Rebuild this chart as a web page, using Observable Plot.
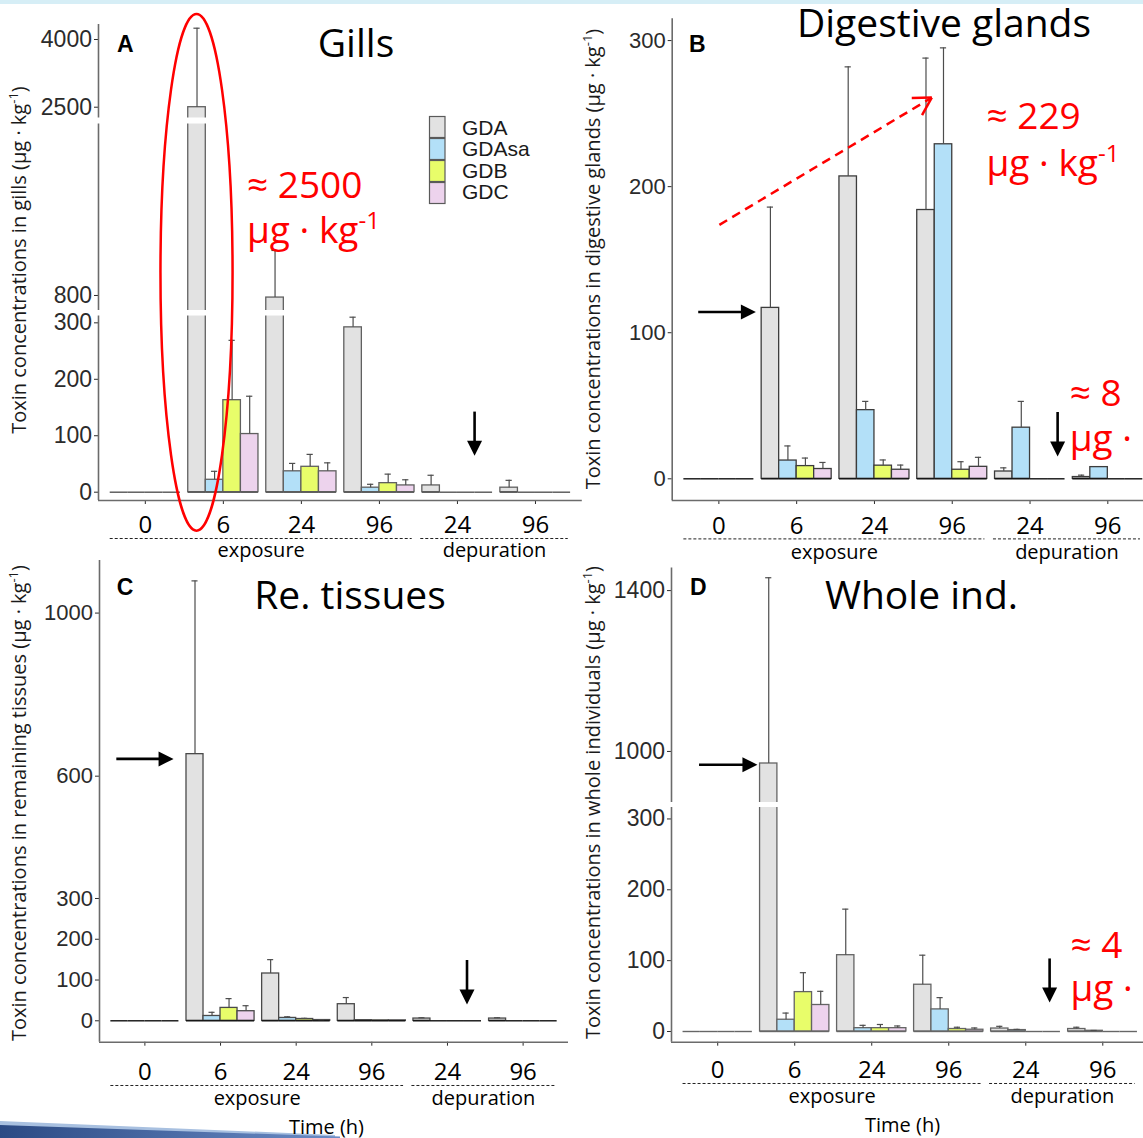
<!DOCTYPE html>
<html><head><meta charset="utf-8">
<script src="https://cdn.jsdelivr.net/npm/d3@7"></script>
<script src="https://cdn.jsdelivr.net/npm/@observablehq/plot@0.6"></script>
<style>
html,body{margin:0;padding:0;background:#fff;}
#wrap{position:relative;width:1143px;height:1138px;overflow:hidden;background:#fff;}
</style></head><body><div id="wrap"></div>
<script>
// ---------------- data ----------------
const timeLabels = ["0", "6", "24", "96", "24", "96"];
const phaseLabels = ["exposure", "depuration"];
const toxins = ["GDA", "GDAsa", "GDB", "GDC"];
const toxinColors = ["#e2e2e2", "#b3e0f8", "#e8fd6a", "#edd3ed"];

// rows = time groups (0,6,24,96 exposure; 24,96 depuration), columns = toxins
const gillsMean = [[0,0,0,0],[2500,22,163,103],[783,37,45,37],[292,8,16,12],[12,0,0,0],[8,0,0,0]];
const gillsSD   = [[0,0,0,0],[1750,15,106,67],[383,14,22,15],[18,6,16,10],[18,0,0,0],[13,0,0,0]];
const glandsMean = [[0,0,0,0],[117,12.5,8.7,6.7],[207,47,9,6.2],[184,229,6.2,8.2],[5,35,0,0],[1.2,8,0,0]];
const glandsSD   = [[0,0,0,0],[69,10,5.5,4.5],[75,6,3.9,3.2],[104,66,5.5,6.5],[2.5,18,0,0],[1.3,0,0,0]];
const tissuesMean = [[0,0,0,0],[654,11.8,31.6,23.5],[116,7,4.4,1.8],[40.7,1.5,1,1],[5.5,0,0,0],[5.5,0,0,0]];
const tissuesSD   = [[0,0,0,0],[425,9,22.8,13.5],[34,2.8,1.6,1.2],[16.3,0,0,0],[2,0,0,0],[2,0,0,0]];
const wholeMean = [[0,0,0,0],[970,16.6,55.6,37.4],[107.7,4.7,4.7,4.7],[66,31.2,3.5,2.5],[4.2,2,0,0],[3.5,1,0,0]];
const wholeSD   = [[0,0,0,0],[462,9.4,27.4,19.3],[65,4,5.2,3.1],[41.7,16.6,2.5,2.5],[3.1,1,0,0],[2.5,0.5,0,0]];

const gillsTicks = [0, 100, 200, 300, 800, 2500, 4000];
const glandsTicks = [0, 100, 200, 300];
const tissuesTicks = [0, 100, 200, 300, 600, 1000];
const wholeTicks = [0, 100, 200, 300, 1000, 1400];

// ---------------- layout ----------------
const W = 1160, H = 1138;
const wrap = document.getElementById("wrap");

// background decoration (slide strip and swoosh), behind the charts
const bg = d3.select(wrap).append("svg").attr("width", 1143).attr("height", 1138)
  .style("position", "absolute").style("left", 0).style("top", 0);
bg.append("rect").attr("x", 0).attr("y", 0).attr("width", 1143).attr("height", 4).attr("fill", "#d6eef6");
const grad = bg.append("defs").append("linearGradient").attr("id", "sw");
grad.append("stop").attr("offset", "0%").attr("stop-color", "#2b4a84");
grad.append("stop").attr("offset", "100%").attr("stop-color", "#6b8cc6");
bg.append("path").attr("d", "M0,1121L335,1135L335,1138L0,1138Z").attr("fill", "#a8c0e0");
bg.append("path").attr("d", "M0,1125L340,1136.5L340,1138L0,1138Z").attr("fill", "url(#sw)");

// broken-axis mapping: value -> axis position units
function broken(segs) {
  return v => {
    let s = segs[0];
    for (const sg of segs) if (v >= sg.v0) s = sg;
    return s.t0 + (v - s.v0) * (s.t1 - s.t0) / (s.v1 - s.v0);
  };
}
const gillsSegs = [{v0:0,v1:313,t0:0,t1:176.7},{v0:681,v1:2199,t0:182.1,t1:368.7},{v0:2272,v1:4600,t0:374.7,t1:479.8}];
const wholeSegs = [{v0:0,v1:317,t0:0,t1:224.6},{v0:874,v1:1500,t0:229.4,t1:481.1}];

function arrowsMark(list, tr) {
  return (index, scales) => {
    const g = d3.create("svg:g");
    for (const a of list) {
      const X1 = scales.x(a.x1), Y1 = scales.y(tr(a.y1)), X2 = scales.x(a.x2), Y2 = scales.y(tr(a.y2));
      const ang = Math.atan2(Y2 - Y1, X2 - X1), L = 15, hw = 7.5;
      const bx = X2 - L * Math.cos(ang), by = Y2 - L * Math.sin(ang);
      g.append("line").attr("x1", X1).attr("y1", Y1).attr("x2", bx + Math.cos(ang)).attr("y2", by + Math.sin(ang))
        .attr("stroke", "#000").attr("stroke-width", 2.6);
      g.append("path").attr("fill", "#000")
        .attr("d", `M${X2},${Y2}L${bx - hw * Math.sin(ang)},${by + hw * Math.cos(ang)}L${bx + hw * Math.sin(ang)},${by - hw * Math.cos(ang)}Z`);
    }
    return g.node();
  };
}
function dashedArrowMark(a, tr) {
  return (index, scales) => {
    const g = d3.create("svg:g");
    const X1 = scales.x(a.x1), Y1 = scales.y(tr(a.y1)), X2 = scales.x(a.x2), Y2 = scales.y(tr(a.y2));
    const ang = Math.atan2(Y2 - Y1, X2 - X1), L = 20;
    g.append("line").attr("x1", X1).attr("y1", Y1).attr("x2", X2).attr("y2", Y2)
      .attr("stroke", "#ff0000").attr("stroke-width", 2.5).attr("stroke-dasharray", "9,6");
    for (const s of [-1, 1]) {
      const b = ang + Math.PI + s * Math.PI / 6;
      g.append("line").attr("x1", X2).attr("y1", Y2).attr("x2", X2 + L * Math.cos(b)).attr("y2", Y2 + L * Math.sin(b))
        .attr("stroke", "#ff0000").attr("stroke-width", 2.5);
    }
    return g.node();
  };
}
function ellipseMark(e, tr) {
  return (index, scales) => {
    const cx = scales.x(e.x), rx = scales.x(e.x + e.dx) - cx;
    const yt = scales.y(tr(e.yTop)), yb = scales.y(tr(e.yBottom));
    return d3.create("svg:ellipse").attr("cx", cx).attr("cy", (yt + yb) / 2).attr("rx", rx).attr("ry", (yb - yt) / 2)
      .attr("fill", "none").attr("stroke", "#ff0000").attr("stroke-width", 2.5).node();
  };
}

const panels = [
  {mean: gillsMean, sd: gillsSD, ticks: gillsTicks, segs: gillsSegs,
   left: 98, right: 581.8, top: 24, bottom: 500, ydom: [-8.3, 467.7],
   outline: "#606060", zero: "#555", tickFont: 23,
   tickDy: 25, dashDy: 38, phaseDy: 50, timeDy: null,
   arrows: [{x1: 5.226, y1: 141.9, x2: 5.226, y2: 63.8}],
   ellipse: {x: 1.6625, dx: 0.462, yTop: 4554, yBottom: -69}},
  {mean: glandsMean, sd: glandsSD, ticks: glandsTicks, segs: null,
   left: 671.7, right: 1154, top: 18.3, bottom: 500, ydom: [-14.85, 314.9],
   outline: "#3c3c3c", zero: "#111", tickFont: 22,
   tickDy: 25.6, dashDy: 38.4, phaseDy: 52, timeDy: null,
   arrows: [{x1: 0.741, y1: 113.8, x2: 1.482, y2: 113.8}, {x1: 5.361, y1: 45.4, x2: 5.361, y2: 14.9}],
   dashed: {x1: 1.013, y1: 173.5, x2: 3.743, y2: 260.6}},
  {mean: tissuesMean, sd: tissuesSD, ticks: tissuesTicks, segs: null,
   left: 99, right: 568, top: 560, bottom: 1041.7, ydom: [-52.5, 1129],
   outline: "#4a4a4a", zero: "#111", tickFont: 22,
   tickDy: 30, dashDy: 43.3, phaseDy: 56, timeDy: 85,
   arrows: [{x1: 0.629, y1: 641.2, x2: 1.386, y2: 641.2}, {x1: 5.265, y1: 147.9, x2: 5.265, y2: 39}]},
  {mean: wholeMean, sd: wholeSD, ticks: wholeTicks, segs: wholeSegs,
   left: 671, right: 1148.5, top: 567.4, bottom: 1041.7, ydom: [-10.7, 463.6],
   outline: "#646464", zero: "#666", tickFont: 23,
   tickDy: 28, dashDy: 41.3, phaseDy: 54, timeDy: 83,
   arrows: [{x1: 0.764, y1: 965.8, x2: 1.522, y2: 965.8}, {x1: 5.316, y1: 102.4, x2: 5.316, y2: 40.1}]}
];

for (const p of panels) {
  const tr = p.segs ? broken(p.segs) : (v => v);
  const bars = [];
  p.mean.forEach((row, gi) => row.forEach((v, j) => {
    const g = gi + 1, x1 = g - 0.45 + j * 0.225;
    bars.push({g, j, toxin: toxins[j], v, sd: p.sd[gi][j], x1, x2: x1 + 0.225, xc: x1 + 0.1125});
  }));
  const filled = bars.filter(d => d.v > 0);
  const errs = bars.filter(d => d.sd > 0);
  const groups = timeLabels.map((label, i) => ({g: i + 1, label}));
  const phases = [{label: phaseLabels[0], x1: 0.55, x2: 4.42}, {label: phaseLabels[1], x1: 4.53, x2: 6.42}];
  const tickMap = new Map(p.ticks.map(v => [tr(v), String(v)]));
  const gaps = [];
  if (p.segs) for (let k = 0; k < p.segs.length - 1; k++) {
    gaps.push({t: (p.segs[k].t1 + p.segs[k + 1].t0) / 2, w: p.segs[k + 1].t0 - p.segs[k].t1});
  }
  const marks = [
    Plot.rect(filled, {x1: "x1", x2: "x2", y1: () => tr(0), y2: d => tr(d.v), fill: "toxin", stroke: p.outline, strokeWidth: 1.3}),
    Plot.ruleY(bars, {x1: "x1", x2: "x2", y: () => tr(0), stroke: p.zero, strokeWidth: 1.4}),
    Plot.ruleX(errs, {x: "xc", y1: d => tr(d.v), y2: d => tr(d.v + d.sd), stroke: "#4d4d4d", strokeWidth: 1.2}),
    Plot.ruleY(errs, {x1: d => d.xc - 0.04, x2: d => d.xc + 0.04, y: d => tr(d.v + d.sd), stroke: "#4d4d4d", strokeWidth: 1.2}),
    Plot.ruleX([0.4], {stroke: "#6b6b6b", strokeWidth: 1.6}),
    Plot.ruleY([p.ydom[0]], {stroke: "#6b6b6b", strokeWidth: 1.6}),
    ...gaps.map(gp => Plot.ruleY([gp.t], {x1: 0.3, x2: 6.7, stroke: "#ffffff", strokeWidth: gp.w})),
    Plot.text(groups, {x: "g", frameAnchor: "bottom", lineAnchor: "middle", dy: p.tickDy, text: "label", fontFamily: "Open Sans", fontSize: 24, fill: "#000"}),
    Plot.ruleY(phases, {x1: "x1", x2: "x2", y: () => p.ydom[0], dy: p.dashDy, stroke: "#222", strokeWidth: 1, strokeDasharray: "3,2"}),
    Plot.text(phases, {x: d => (d.x1 + d.x2) / 2, frameAnchor: "bottom", lineAnchor: "middle", dy: p.phaseDy, text: "label", fontFamily: "Open Sans", fontSize: 20, fill: "#000"}),
    arrowsMark(p.arrows, tr)
  ];
  if (p.timeDy != null) marks.push(Plot.text(["Time (h)"], {x: 3.4, frameAnchor: "bottom", lineAnchor: "middle", dy: p.timeDy, text: d => d, fontFamily: "Open Sans", fontSize: 20, fill: "#000"}));
  if (p.ellipse) marks.push(ellipseMark(p.ellipse, tr));
  if (p.dashed) marks.push(dashedArrowMark(p.dashed, tr));
  const svg = Plot.plot({
    width: W, height: H,
    marginLeft: p.left, marginRight: W - p.right, marginTop: p.top, marginBottom: H - p.bottom,
    x: {type: "linear", domain: [0.4, 6.6], ticks: [1, 2, 3, 4, 5, 6], tickSize: 4, tickFormat: () => "", label: null},
    y: {type: "linear", domain: p.ydom, ticks: p.ticks.map(tr), tickFormat: d => tickMap.get(d) ?? "", tickSize: 4, tickPadding: 2.5, label: null},
    color: {domain: toxins, range: toxinColors},
    style: `position:absolute;left:0;top:0;background:transparent;max-width:none;overflow:visible;font-family:'Liberation Sans',Arial,sans-serif;font-size:${p.tickFont}px;color:#2b2b2b;`,
    marks
  });
  wrap.appendChild(svg);
}

// ---------------- overlay texts ----------------
const ov = d3.select(wrap).append("svg").attr("width", 1143).attr("height", 1138)
  .style("position", "absolute").style("left", 0).style("top", 0).style("overflow", "hidden");

const letters = [["A", 117, 52], ["B", 689, 51.7], ["C", 116.7, 595], ["D", 690, 595]];
for (const [t, x, y] of letters) ov.append("text").attr("x", x).attr("y", y).text(t)
  .attr("font-family", "'Liberation Sans', Arial, sans-serif").attr("font-weight", "bold").attr("font-size", 23).attr("fill", "#000");

const titles = [["Gills", 356, 57], ["Digestive glands", 944, 37], ["Re. tissues", 350, 609], ["Whole ind.", 921.5, 609]];
for (const [t, x, y] of titles) ov.append("text").attr("x", x).attr("y", y).attr("text-anchor", "middle").text(t)
  .attr("font-family", "'Open Sans', sans-serif").attr("font-size", 39).attr("fill", "#000");

const yTitles = [["Toxin concentrations in gills", 26, 260], ["Toxin concentrations in digestive glands", 600, 259],
  ["Toxin concentrations in remaining tissues", 26, 803], ["Toxin concentrations in whole individuals", 600, 802.5]];
for (const [t, x, y] of yTitles) {
  const tx = ov.append("text").attr("transform", `translate(${x},${y}) rotate(-90)`).attr("text-anchor", "middle")
    .attr("font-family", "'Open Sans', sans-serif").attr("font-size", 20).attr("fill", "#1a1a1a");
  tx.append("tspan").text(t + " (µg · kg");
  tx.append("tspan").attr("dy", -8).attr("font-size", 13).text("-1");
  tx.append("tspan").attr("dy", 8).text(")");
}

const notes = [["≈ 2500", 247, 197.7, 242.8], ["≈ 229", 986.5, 129, 176.4], ["≈ 8", 1069.7, 406.3, 451], ["≈ 4", 1070.5, 958.4, 1000.8]];
for (const [t, x, y1, y2] of notes) {
  ov.append("text").attr("x", x).attr("y", y1).text(t).attr("font-family", "'Open Sans', sans-serif").attr("font-size", 37).attr("fill", "#ff0000");
  const tx = ov.append("text").attr("x", x).attr("y", y2).attr("font-family", "'Open Sans', sans-serif").attr("font-size", 37).attr("fill", "#ff0000");
  tx.append("tspan").text("µg · kg");
  tx.append("tspan").attr("dy", -14).attr("font-size", 24).text("-1");
}

// legend (panel A)
toxins.forEach((name, i) => {
  ov.append("rect").attr("x", 429.5).attr("y", 116.5 + i * 22).attr("width", 15.5).attr("height", 21)
    .attr("fill", toxinColors[i]).attr("stroke", "#5a5a5a").attr("stroke-width", 1.2);
  ov.append("text").attr("x", 462).attr("y", 134.5 + i * 21.6).text(name)
    .attr("font-family", "'Liberation Sans', Arial, sans-serif").attr("font-size", 21).attr("fill", "#1a1a1a");
});
</script></body></html>
